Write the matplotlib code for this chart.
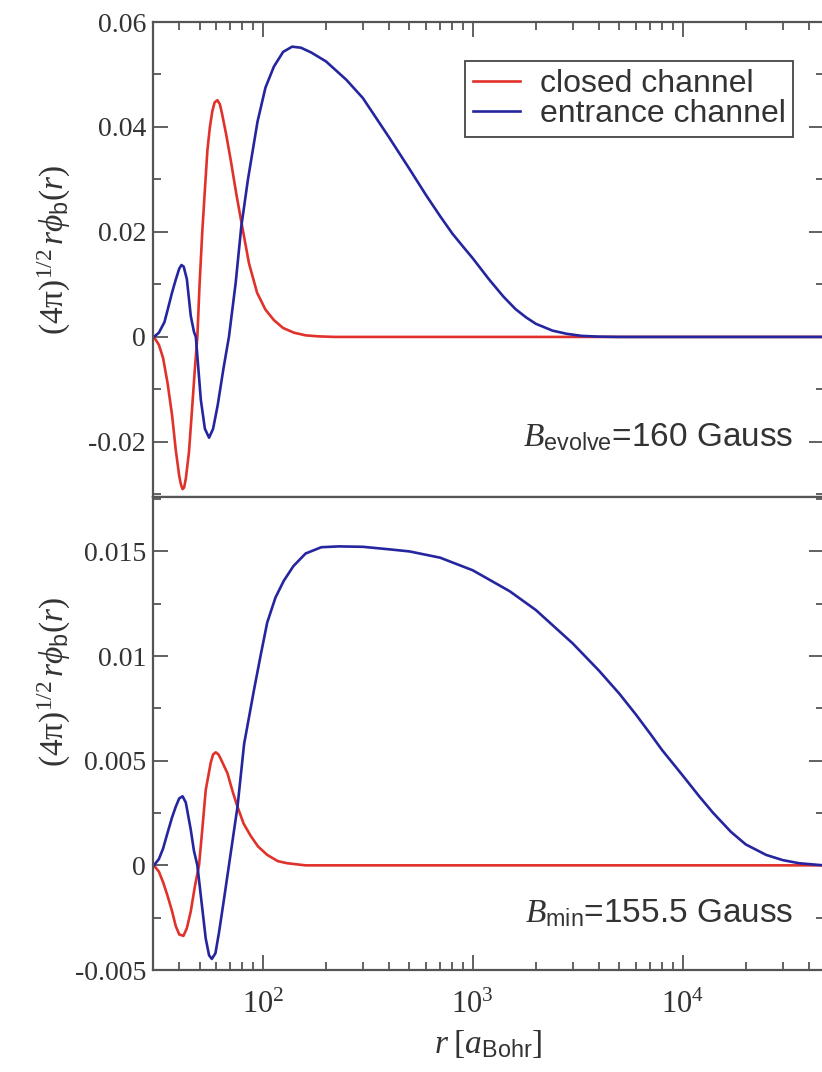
import numpy as np
import matplotlib
matplotlib.use("Agg")
import matplotlib.pyplot as plt
from matplotlib.ticker import LogLocator, LogFormatterMathtext, NullFormatter, MultipleLocator

plt.rcParams['font.family'] = ['Liberation Serif', 'DejaVu Serif']
plt.rcParams['mathtext.fontset'] = 'custom'
plt.rcParams['mathtext.rm'] = 'Liberation Serif'
plt.rcParams['mathtext.it'] = 'Liberation Serif:italic'
plt.rcParams['mathtext.sf'] = 'Liberation Sans'

# values (r in Bohr radii)
top_r_closed = [30.3, 32, 33.5, 35.2, 37, 38.5, 40, 40.8, 41.5, 42.2, 43, 44.5, 46, 47.5,
                48.8, 50, 51.5, 53, 54.5, 56, 57.5, 59, 60.8, 62.5, 64, 67, 70.5, 75, 79,
                86, 94, 103, 113, 125, 141, 160, 185, 220, 47000]
top_closed = [0, -0.0015, -0.0040, -0.0088, -0.0150, -0.0215, -0.0265, -0.0282, -0.0290,
              -0.0287, -0.0270, -0.0220, -0.0140, -0.0060, 0.0, 0.0100, 0.0200, 0.0280,
              0.0356, 0.0400, 0.0430, 0.0447, 0.0451, 0.0443, 0.0425, 0.0385, 0.0335, 0.0270,
              0.0220, 0.0140, 0.0084, 0.0052, 0.0032, 0.0017, 0.0008, 0.0003, 0.0001, 0.0, 0.0]

top_r_entr = [30.3, 32, 34, 35.2, 37, 38.5, 40, 41, 42, 43.5, 45.4, 47, 48, 50.7, 53, 55.5,
              58, 61, 65, 69, 74.3, 79, 85, 94.4, 103, 113, 125, 138, 152, 170, 200, 250,
              300, 400, 500, 600, 700, 800, 900, 1000, 1200, 1400, 1600, 1800, 2000, 2400,
              2800, 3300, 4000, 5000, 47000]
top_entr = [0, 0.0008, 0.0028, 0.0051, 0.0085, 0.0109, 0.0130, 0.0137, 0.0134, 0.0110,
            0.0040, 0.0010, 0.0, -0.0120, -0.0175, -0.0192, -0.0175, -0.0130, -0.0060, 0.0,
            0.0103, 0.0210, 0.0300, 0.0410, 0.0475, 0.0515, 0.0543, 0.0553, 0.0551, 0.0542,
            0.0525, 0.0490, 0.0455, 0.0380, 0.0320, 0.0270, 0.0230, 0.0197, 0.0172, 0.0150,
            0.0109, 0.0077, 0.0053, 0.0037, 0.0025, 0.0012, 0.0006, 0.0002, 0.00005, 0.0, 0.0]

bot_r_closed = [30.3, 32, 33.5, 35.2, 37, 38.5, 40, 41.9, 43.5, 45.4, 47.5, 49.7, 51.5, 53.5,
                56.5, 58, 59.7, 61.5, 63, 67.9, 72, 75.8, 81, 87.7, 95, 105, 118, 131, 160,
                47000]
bot_closed = [0, -0.0003, -0.0008, -0.00146, -0.0022, -0.0029, -0.0033, -0.00337, -0.0030,
              -0.0022, -0.0010, 0.0, 0.0017, 0.0036, 0.0049, 0.0053, 0.0054, 0.0053, 0.0051,
              0.0044, 0.0035, 0.0028, 0.0020, 0.0014, 0.0009, 0.0005, 0.0002, 0.0001, 0.0, 0.0]

bot_r_entr = [30.3, 32, 33.5, 35.2, 37, 38.5, 40, 41.5, 43, 45.4, 47, 48.8, 50.7, 53.5, 55.5,
              57.2, 59.5, 61.9, 65.4, 69, 75.8, 81.5, 90.9, 98, 105, 115, 126, 140, 160, 190,
              230, 300, 400, 500, 700, 1000, 1500, 2000, 3000, 4000, 5000, 6000, 7000, 8000,
              10000, 12000, 14000, 17000, 20000, 25000, 30000, 36000, 47000]
bot_entr = [0, 0.0003, 0.0008, 0.00156, 0.0023, 0.0028, 0.0032, 0.0033, 0.0030, 0.0017,
            0.0007, 0.0, -0.00146, -0.0035, -0.0043, -0.00447, -0.0042, -0.0032, -0.0016, 0.0,
            0.0028, 0.0058, 0.0084, 0.0101, 0.0116, 0.0128, 0.0136, 0.0143, 0.0149, 0.0152,
            0.01524, 0.01522, 0.0151, 0.0150, 0.0147, 0.0141, 0.0131, 0.0122, 0.0106, 0.0093,
            0.0082, 0.0072, 0.0063, 0.0055, 0.0043, 0.0033, 0.0025, 0.0016, 0.0010, 0.0005,
            0.00025, 0.0001, 0.0]

top_yticks = [-0.02, 0, 0.02, 0.04, 0.06]
top_ylabels = ['-0.02', '0', '0.02', '0.04', '0.06']
bot_yticks = [-0.005, 0, 0.005, 0.01, 0.015]
bot_ylabels = ['-0.005', '0', '0.005', '0.01', '0.015']

red = '#e0322a'
blue = '#25259f'
axcol = '#555555'
txtcol = '#333333'

fig = plt.figure(figsize=(8.22, 10.72), dpi=100)
W, H = 822, 1072
ax1 = fig.add_axes([153 / W, 1 - 497 / H, 1 - 153 / W + 0.002, (497 - 22) / H])
ax2 = fig.add_axes([153 / W, 1 - 970 / H, 1 - 153 / W + 0.002, (970 - 497) / H])

ax1.plot(top_r_closed, top_closed, color=red, lw=1.9, label='closed channel')
ax1.plot(top_r_entr, top_entr, color=blue, lw=1.9, label='entrance channel')
ax2.plot(bot_r_closed, bot_closed, color=red, lw=1.9)
ax2.plot(bot_r_entr, bot_entr, color=blue, lw=1.9)

ax1.set_ylim(-0.0305, 0.06)
ax2.set_ylim(-0.005, 0.0176)
ax1.set_yticks(top_yticks, top_ylabels)
ax2.set_yticks(bot_yticks, bot_ylabels)
ax1.yaxis.set_minor_locator(MultipleLocator(0.01))
ax2.yaxis.set_minor_locator(MultipleLocator(0.0025))

ylab = r'$(4\mathrm{\pi})^{1/2}\,r\phi_{\mathsf{b}}(r)$'
for ax in (ax1, ax2):
    ax.set_xscale('log')
    ax.set_xlim(30, 47000)
    ax.xaxis.set_major_locator(LogLocator(base=10))
    ax.xaxis.set_minor_locator(LogLocator(base=10, subs=np.arange(2, 10)))
    ax.xaxis.set_minor_formatter(NullFormatter())
    ax.tick_params(which='both', direction='in', colors=axcol, labelcolor=txtcol,
                   width=1.3, right=True)
    ax.tick_params(axis='y', labelsize=20, pad=5)
    ax.tick_params(which='major', length=11)
    ax.tick_params(which='minor', length=6)
    for s in ax.spines.values():
        s.set_color(axcol)
        s.set_linewidth(1.6)

ax1.set_ylabel(ylab, fontsize=24, color=txtcol)
ax2.set_ylabel(ylab, fontsize=24, color=txtcol)
ax1.yaxis.set_label_coords(-0.12, 0.52)
ax2.yaxis.set_label_coords(-0.12, 0.61)

ax1.tick_params(which='both', top=True, bottom=False, labelbottom=False)
ax2.tick_params(which='both', top=False, bottom=True)
ax2.tick_params(axis='x', labelsize=22, pad=15)
ax2.xaxis.set_major_formatter(LogFormatterMathtext())
ax2.set_xlabel(r'$r\;[a_{\mathsf{Bohr}}]$', fontsize=24, color=txtcol, labelpad=6)

leg = ax1.legend(loc='upper right', bbox_to_anchor=(0.955, 0.917), fancybox=False,
                 edgecolor='#444444', framealpha=1, handlelength=1.5, handletextpad=0.6,
                 borderpad=0.25, labelspacing=0.0, borderaxespad=0,
                 prop={'family': 'Liberation Sans', 'size': 23})
leg.get_frame().set_linewidth(1.3)
for t in leg.get_texts():
    t.set_color(txtcol)

ax1.text(0.955, 0.125, r'$B_{\mathsf{evolve}}$=160 Gauss', transform=ax1.transAxes,
         ha='right', va='center', fontsize=24, family='Liberation Sans', color=txtcol)
ax2.text(0.955, 0.12, r'$B_{\mathsf{min}}$=155.5 Gauss', transform=ax2.transAxes,
         ha='right', va='center', fontsize=24, family='Liberation Sans', color=txtcol)

fig.savefig('out.png', dpi=100)
